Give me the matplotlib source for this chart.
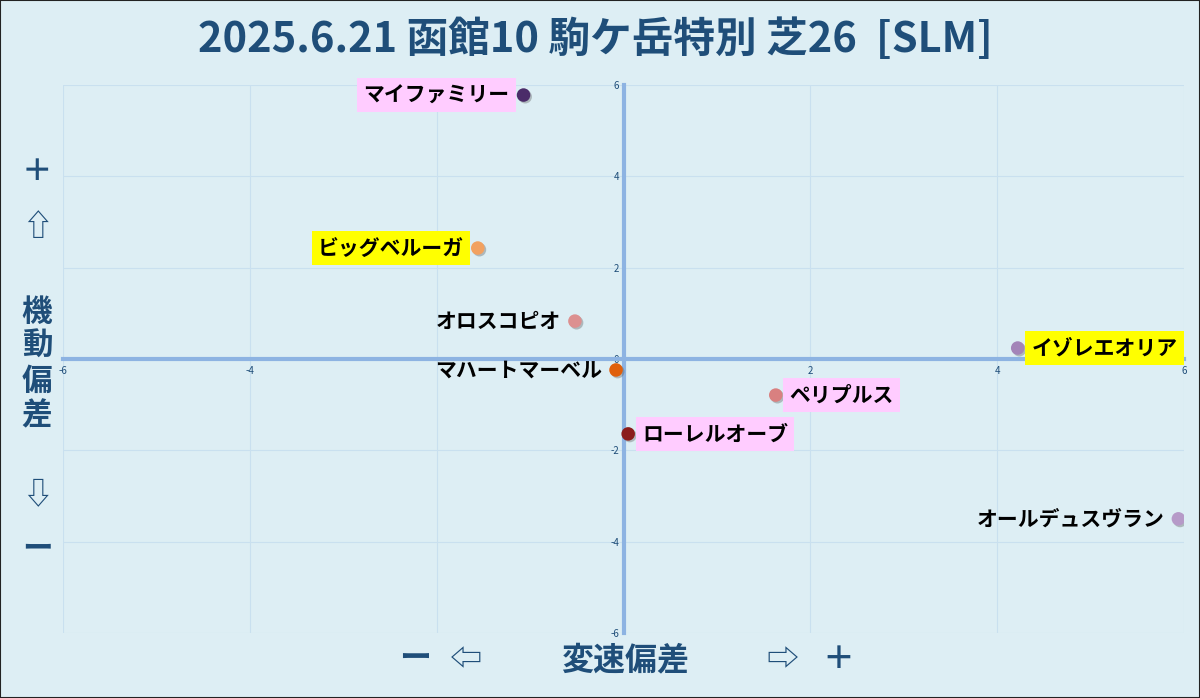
import matplotlib
matplotlib.use("Agg")
import matplotlib.pyplot as plt
import matplotlib.patheffects as pe
from matplotlib.patches import Rectangle

plt.rcParams['font.family'] = ['Noto Sans CJK JP', 'DejaVu Sans']
plt.rcParams['axes.unicode_minus'] = False

title = "2025.6.21 函館10 駒ケ岳特別 芝26  [SLM]"
names = ["マイファミリー", "ビッグベルーガ", "オロスコピオ", "マハートマーベル",
         "イゾレエオリア", "ペリプルス", "ローレルオーブ", "オールデュスヴラン"]
x_vals = [-1.07, -1.56, -0.52, -0.08, 4.22, 1.63, 0.05, 5.94]
y_vals = [5.78, 2.43, 0.83, -0.24, 0.24, -0.79, -1.64, -3.50]
colors = ["#4b2c69", "#f2a160", "#dc9090", "#e0600c",
          "#a384b8", "#d98080", "#8b1c1c", "#b69ac8"]
label_side = ["left", "left", "left", "left", "right", "right", "right", "left"]
label_bg = ["#ffccff", "#ffff00", None, None, "#ffff00", "#ffccff", "#ffccff", None]
ticks = [-6, -4, -2, 0, 2, 4, 6]

BG = "#ddeef4"
NAVY = "#1f4e79"
AXC = "#8db3e2"

fig = plt.figure(figsize=(12, 6.98), dpi=100, facecolor=BG)
ax = fig.add_axes([63/1200, 1-633/698, (1184-63)/1200, (633-85)/698])
ax.set_facecolor(BG)
ax.set_xlim(-6, 6)
ax.set_ylim(-6, 6)
ax.set_xticks(ticks)
ax.set_yticks(ticks)
ax.grid(True, color="#c9e0ef", linewidth=0.8)
ax.set_axisbelow(True)
for s in ["top", "right"]:
    ax.spines[s].set_visible(False)
ax.spines["left"].set_position("zero")
ax.spines["bottom"].set_position("zero")
for s in ["left", "bottom"]:
    ax.spines[s].set_color(AXC)
    ax.spines[s].set_linewidth(3)
ax.tick_params(axis="x", length=0, labelsize=7, labelcolor=NAVY, pad=5)
ax.tick_params(axis="y", length=0, labelsize=7, labelcolor=NAVY, pad=3)
# the x "-2" tick label is hidden behind a name label in the reference
for t, v in zip(ax.get_xticklabels(), ticks):
    if v == -2:
        t.set_visible(False)

sc = ax.scatter(x_vals, y_vals, s=95, c=colors, zorder=5, linewidths=0)
sc.set_path_effects([pe.SimplePatchShadow(offset=(1.2, -1.2), shadow_rgbFace="#555555",
                                          alpha=0.35), pe.Normal()])

for n, x, y, side, bg in zip(names, x_vals, y_vals, label_side, label_bg):
    off = -10 if side == "left" else 10
    ha = "right" if side == "left" else "left"
    bbox = dict(boxstyle="square,pad=0.3", fc=bg, ec="none") if bg else None
    ax.annotate(n, (x, y), xytext=(off, 0), textcoords="offset points",
                ha=ha, va="center", fontsize=15, fontweight="bold",
                color="black", bbox=bbox, zorder=6, annotation_clip=False)

fig.text(0.496, 1-40/698, title, ha="center", va="center", fontsize=30,
         fontweight="bold", color=NAVY)

# y-axis label (vertical)
ylab = [("＋", 172, "bold"), ("⇧", 228, "normal"), ("機", 312, "bold"),
        ("動", 346, "bold"), ("偏", 381, "bold"), ("差", 415, "bold"),
        ("⇩", 495, "normal"), ("ー", 548, "bold")]
for ch, py, w in ylab:
    fig.text(37/1200, 1-py/698, ch, ha="center", va="center", fontsize=22,
             fontweight=w, color=NAVY)

xlab = [("ー", 415, "bold"), ("⇦", 466, "normal"), ("変速偏差", 625, "bold"),
        ("⇨", 782, "normal"), ("＋", 838, "bold")]
for t, px, w in xlab:
    fig.text(px/1200, 1-660/698, t, ha="center", va="center", fontsize=23,
             fontweight=w, color=NAVY)

fig.patches.append(Rectangle((0, 0), 1, 1, transform=fig.transFigure,
                             fill=False, ec="#222222", lw=1.5))

fig.savefig("out.png", dpi=100, facecolor=BG)
